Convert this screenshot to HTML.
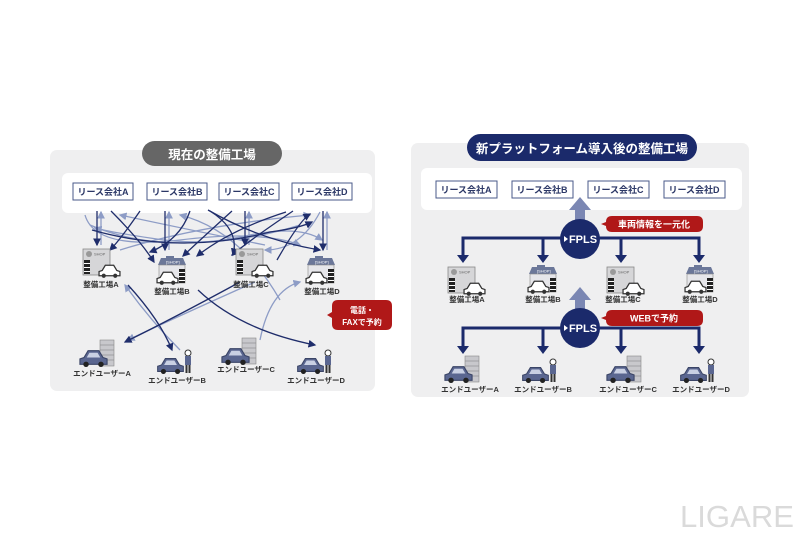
<!DOCTYPE html>
<html><head><meta charset="utf-8"><style>
html,body{margin:0;padding:0;background:#fff;}
svg{display:block;font-family:"Liberation Sans","Noto Sans CJK JP",sans-serif;}
</style></head><body>
<svg width="800" height="533" viewBox="0 0 800 533" xmlns="http://www.w3.org/2000/svg">
<defs>
<marker id="ad" markerWidth="6" markerHeight="6" refX="5" refY="3" orient="auto"><path d="M0,0 L6,3 L0,6z" fill="#1f2d6b"/></marker>
<marker id="al" markerWidth="6" markerHeight="6" refX="5" refY="3" orient="auto"><path d="M0,0 L6,3 L0,6z" fill="#8d9cc6"/></marker>
<symbol id="carw" viewBox="0 0 22 14"><path d="M1,12 V8 L4,7 L7,2 H15 L18,7 L21,8 V12z" fill="#fff" stroke="#333" stroke-width="1.2"/><circle cx="5.5" cy="12" r="2" fill="#333"/><circle cx="16.5" cy="12" r="2" fill="#333"/></symbol>
<symbol id="carb" viewBox="0 0 22 14"><path d="M1,12 V8 L4,7 L7,2 H15 L18,7 L21,8 V12z" fill="#5a6690" stroke="#3a4466" stroke-width="0.8"/><path d="M8,3.5 H14 L16,7 H6z" fill="#c9d0e3"/><circle cx="5.5" cy="12" r="2" fill="#222"/><circle cx="16.5" cy="12" r="2" fill="#222"/></symbol>
<symbol id="shopA" viewBox="0 0 40 32"><rect x="1" y="1" width="27" height="26" fill="#d6d6d8" stroke="#888" stroke-width="0.8"/><circle cx="7" cy="6" r="3" fill="#999"/><text x="12" y="7.5" font-size="4" fill="#666">SHOP</text><rect x="2" y="12" width="6" height="14" fill="#222"/><rect x="2" y="15" width="6" height="1" fill="#fff"/><rect x="2" y="19" width="6" height="1" fill="#fff"/><rect x="2" y="23" width="6" height="1" fill="#fff"/><use href="#carw" x="16" y="15" width="23" height="15"/></symbol>
<symbol id="shopB" viewBox="0 0 40 32"><path d="M6,10 L9,3 H31 L34,10z" fill="#6b7799"/><rect x="14" y="1" width="8" height="3" fill="#6b7799"/><rect x="7" y="10" width="26" height="18" fill="#e6e6ea" stroke="#888" stroke-width="0.6"/><text x="14" y="8.5" font-size="4" fill="#fff">[SHOP]</text><rect x="27" y="14" width="6" height="14" fill="#222"/><rect x="27" y="17" width="6" height="1" fill="#fff"/><rect x="27" y="21" width="6" height="1" fill="#fff"/><rect x="27" y="25" width="6" height="1" fill="#fff"/><use href="#carw" x="4" y="15" width="23" height="15"/></symbol>
<symbol id="userA" viewBox="0 0 40 30"><rect x="22" y="2" width="14" height="26" fill="#c8c8cc" stroke="#888" stroke-width="0.6"/><g stroke="#888" stroke-width="0.6"><line x1="22" y1="7" x2="36" y2="7"/><line x1="22" y1="12" x2="36" y2="12"/><line x1="22" y1="17" x2="36" y2="17"/><line x1="22" y1="22" x2="36" y2="22"/></g><use href="#carb" x="0" y="10" width="31" height="19"/></symbol>
<symbol id="userB" viewBox="0 0 40 30"><use href="#carb" x="1" y="11" width="29" height="18"/><circle cx="33" cy="8" r="3" fill="#fff" stroke="#333"/><rect x="30" y="11" width="6" height="9" fill="#5a6690"/><rect x="30.5" y="20" width="2" height="8" fill="#333"/><rect x="33.5" y="20" width="2" height="8" fill="#333"/></symbol>
</defs>

<!-- LEFT PANEL -->
<rect x="50" y="150" width="325" height="241" rx="7" fill="#efeff0"/>
<rect x="62" y="173" width="310" height="40" rx="6" fill="#fff"/>
<rect x="142" y="141" width="140" height="25" rx="12.5" fill="#666"/>
<text x="212" y="159" font-size="12.5" font-weight="bold" fill="#fff" text-anchor="middle">現在の整備工場</text>
<g font-size="9" font-weight="bold" fill="#2b3766" text-anchor="middle">
<rect x="73" y="183" width="60" height="17" fill="#fff" stroke="#4a5a8a"/><text x="103" y="195">リース会社A</text>
<rect x="147" y="183" width="60" height="17" fill="#fff" stroke="#4a5a8a"/><text x="177" y="195">リース会社B</text>
<rect x="219" y="183" width="60" height="17" fill="#fff" stroke="#4a5a8a"/><text x="249" y="195">リース会社C</text>
<rect x="292" y="183" width="60" height="17" fill="#fff" stroke="#4a5a8a"/><text x="322" y="195">リース会社D</text>
</g>
<!-- tangled arrows -->
<g fill="none" stroke-width="1.3">
<g stroke="#8d9cc6" marker-end="url(#al)">
<path d="M101,245 V212"/><path d="M169,250 V212"/><path d="M249,245 V212"/><path d="M327,250 V212"/>
<path d="M85,215 Q95,250 180,240 Q260,230 300,245"/>
<path d="M320,212 Q300,250 265,250"/><path d="M265,245 Q190,230 120,215"/>
<path d="M120,250 Q200,225 310,215"/>
<path d="M90,225 Q160,255 250,235 Q300,225 322,240"/>
<path d="M300,225 Q220,250 150,238 Q110,232 95,228"/>
<path d="M255,282 Q170,320 128,340"/><path d="M180,350 Q150,320 125,285"/>
<path d="M260,340 Q270,290 300,282"/><path d="M280,300 Q240,230 180,215"/>
</g>
<g stroke="#1f2d6b" marker-end="url(#ad)">
<path d="M97,211 V245"/><path d="M165,211 V250"/><path d="M245,211 V245"/><path d="M323,211 V250"/>
<path d="M111,211 Q140,240 154,262"/><path d="M140,211 Q120,240 110,250"/>
<path d="M190,211 Q180,240 150,252"/><path d="M210,211 Q240,230 233,255"/>
<path d="M232,211 Q200,240 183,256"/><path d="M293,211 Q250,240 232,255"/>
<path d="M208,210 Q260,240 320,250"/><path d="M286,212 Q230,230 197,256"/>
<path d="M92,230 Q180,255 270,232 Q300,228 312,222"/>
<path d="M198,290 Q240,330 315,345"/><path d="M240,282 Q170,320 125,342"/>
<path d="M128,285 Q160,320 172,350"/><path d="M277,260 Q300,220 310,214"/>
</g>
</g>
<use href="#shopA" x="82" y="248" width="40" height="32"/>
<use href="#shopB" x="152" y="255" width="40" height="32"/>
<use href="#shopA" x="235" y="248" width="40" height="32"/>
<use href="#shopB" x="301" y="255" width="40" height="32"/>
<g font-size="7.5" font-weight="bold" fill="#333" text-anchor="middle">
<text x="101" y="287">整備工場A</text><text x="172" y="294">整備工場B</text><text x="251" y="287">整備工場C</text><text x="322" y="294">整備工場D</text>
<text x="102" y="376">エンドユーザーA</text><text x="177" y="383">エンドユーザーB</text><text x="246" y="372">エンドユーザーC</text><text x="316" y="383">エンドユーザーD</text>
</g>
<use href="#userA" x="78" y="338" width="40" height="30"/>
<use href="#userB" x="155" y="345" width="40" height="30"/>
<use href="#userA" x="220" y="336" width="40" height="30"/>
<use href="#userB" x="295" y="345" width="40" height="30"/>
<path d="M338,300 H386 Q392,300 392,306 V324 Q392,330 386,330 H338 Q332,330 332,324 V318 L327,315 L332,312 V306 Q332,300 338,300z" fill="#b01818"/>
<text x="362" y="313" font-size="8" font-weight="bold" fill="#fff" text-anchor="middle">電話・</text>
<text x="362" y="325" font-size="8" font-weight="bold" fill="#fff" text-anchor="middle">FAXで予約</text>

<!-- RIGHT PANEL -->
<rect x="411" y="143" width="338" height="254" rx="7" fill="#efeff0"/>
<rect x="421" y="168" width="321" height="42" rx="6" fill="#fff"/>
<rect x="467" y="134" width="230" height="27" rx="13.5" fill="#1b2a6b"/>
<text x="582" y="153" font-size="12.5" font-weight="bold" fill="#fff" text-anchor="middle">新プラットフォーム導入後の整備工場</text>
<g font-size="9" font-weight="bold" fill="#2b3766" text-anchor="middle">
<rect x="436" y="181" width="61" height="17" fill="#fff" stroke="#4a5a8a"/><text x="466" y="193">リース会社A</text>
<rect x="512" y="181" width="61" height="17" fill="#fff" stroke="#4a5a8a"/><text x="542" y="193">リース会社B</text>
<rect x="588" y="181" width="61" height="17" fill="#fff" stroke="#4a5a8a"/><text x="618" y="193">リース会社C</text>
<rect x="664" y="181" width="61" height="17" fill="#fff" stroke="#4a5a8a"/><text x="694" y="193">リース会社D</text>
</g>
<path d="M575,232 V210 H569 L580,197 L591,210 H585 V232z" fill="#7b87b3"/>
<path d="M575,320 V300 H569 L580,287 L591,300 H585 V320z" fill="#7b87b3"/>
<g stroke="#1b2a6b" stroke-width="3" fill="none">
<path d="M463,256 V238 H699 V256"/><path d="M543,238 V256"/><path d="M621,238 V256"/>
<path d="M463,347 V328 H699 V347"/><path d="M543,328 V347"/><path d="M621,328 V347"/>
</g>
<g fill="#1b2a6b">
<path d="M457,255 H469 L463,263z"/><path d="M537,255 H549 L543,263z"/><path d="M615,255 H627 L621,263z"/><path d="M693,255 H705 L699,263z"/>
<path d="M457,346 H469 L463,354z"/><path d="M537,346 H549 L543,354z"/><path d="M615,346 H627 L621,354z"/><path d="M693,346 H705 L699,354z"/>
</g>
<circle cx="580" cy="239" r="20" fill="#1b2a6b"/>
<circle cx="580" cy="328" r="20" fill="#1b2a6b"/>
<g font-size="11" font-weight="bold" fill="#fff" text-anchor="middle">
<text x="583" y="243">FPLS</text><text x="583" y="332">FPLS</text>
</g>
<g fill="#fff"><path d="M564,236 L568,239 L564,242z"/><path d="M564,325 L568,328 L564,331z"/></g>
<path d="M612,216 H697 Q703,216 703,222 V226 Q703,232 697,232 H612 Q606,232 606,226 L601,224 L606,222 Q606,216 612,216z" fill="#b01818"/>
<text x="654" y="227.5" font-size="9" font-weight="bold" fill="#fff" text-anchor="middle">車両情報を一元化</text>
<path d="M612,310 H697 Q703,310 703,316 V320 Q703,326 697,326 H612 Q606,326 606,320 L601,318 L606,316 Q606,310 612,310z" fill="#b01818"/>
<text x="654" y="321.5" font-size="9" font-weight="bold" fill="#fff" text-anchor="middle">WEBで予約</text>
<use href="#shopA" x="447" y="266" width="40" height="32"/>
<use href="#shopB" x="523" y="264" width="40" height="32"/>
<use href="#shopA" x="606" y="266" width="40" height="32"/>
<use href="#shopB" x="680" y="264" width="40" height="32"/>
<use href="#userA" x="443" y="354" width="40" height="30"/>
<use href="#userB" x="520" y="354" width="40" height="30"/>
<use href="#userA" x="605" y="354" width="40" height="30"/>
<use href="#userB" x="678" y="354" width="40" height="30"/>
<g font-size="7.5" font-weight="bold" fill="#333" text-anchor="middle">
<text x="467" y="302">整備工場A</text><text x="543" y="302">整備工場B</text><text x="623" y="302">整備工場C</text><text x="700" y="302">整備工場D</text>
<text x="470" y="392">エンドユーザーA</text><text x="543" y="392">エンドユーザーB</text><text x="628" y="392">エンドユーザーC</text><text x="701" y="392">エンドユーザーD</text>
</g>
<text x="794" y="527" font-size="31" fill="#dadada" text-anchor="end" textLength="114" lengthAdjust="spacingAndGlyphs">LIGARE</text>
</svg>
</body></html>
